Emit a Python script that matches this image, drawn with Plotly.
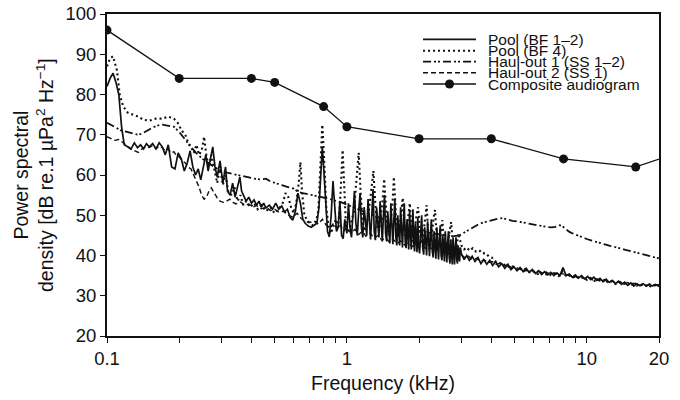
import plotly.graph_objects as go

# ---------------- data ----------------
aud_f = [0.1, 0.2, 0.4, 0.5, 0.8, 1.0, 2.0, 4.0, 8.0, 16.0, 32.0]
aud_db = [96, 84, 84, 83, 77, 72, 69, 69, 64, 62, 68]

pool12_f = [0.100, 0.103, 0.106, 0.109, 0.112, 0.115, 0.118, 0.122, 0.126, 0.130, 0.134, 0.138, 0.142, 0.146,
            0.150, 0.155, 0.160, 0.165, 0.170, 0.175, 0.180, 0.186, 0.192, 0.198, 0.204, 0.210, 0.216, 0.222,
            0.228, 0.234, 0.240, 0.246, 0.252, 0.258, 0.264, 0.270, 0.276, 0.282, 0.288, 0.296, 0.304, 0.312,
            0.318, 0.326, 0.334, 0.342, 0.350, 0.358, 0.364, 0.372, 0.380, 0.390, 0.400, 0.410, 0.420, 0.430,
            0.440, 0.450, 0.460, 0.475, 0.490, 0.505, 0.520, 0.535, 0.550, 0.565, 0.580, 0.595, 0.610, 0.625,
            0.640, 0.655, 0.670, 0.690, 0.710, 0.730, 0.750, 0.765, 0.780, 0.790, 0.800, 0.815, 0.830, 0.845,
            0.860, 0.875, 0.890, 0.905, 0.920, 0.935, 0.950, 0.965, 0.980,
            1.000, 1.015, 1.030, 1.045, 1.060, 1.075, 1.090, 1.105, 1.120, 1.135, 1.150, 1.165, 1.180, 1.195,
            1.210, 1.225, 1.240, 1.255, 1.270, 1.285, 1.300, 1.315, 1.330, 1.345, 1.360, 1.375, 1.390, 1.405,
            1.420, 1.435, 1.450, 1.465, 1.480, 1.495, 1.510, 1.525, 1.540, 1.555, 1.570, 1.585, 1.600, 1.615,
            1.630, 1.645, 1.660, 1.675, 1.690, 1.705, 1.720, 1.735, 1.750, 1.765, 1.780, 1.795, 1.810, 1.825,
            1.840, 1.855, 1.870, 1.885, 1.900, 1.915, 1.930, 1.945, 1.960, 1.975, 1.990, 2.010, 2.030, 2.050,
            2.070, 2.090, 2.110, 2.130, 2.150, 2.170, 2.190, 2.210, 2.230, 2.250, 2.270, 2.290, 2.310, 2.330,
            2.350, 2.370, 2.390, 2.410, 2.430, 2.450, 2.470, 2.490, 2.510, 2.530, 2.550, 2.570, 2.590, 2.610,
            2.630, 2.650, 2.670, 2.690, 2.710, 2.730, 2.750, 2.770, 2.790, 2.810, 2.830, 2.850, 2.870, 2.890,
            2.910, 2.930, 2.950, 2.970,
            3.000, 3.080, 3.160, 3.240, 3.330, 3.420, 3.520, 3.620, 3.720, 3.830, 3.940, 4.050, 4.170,
            4.290, 4.420, 4.550, 4.690, 4.830, 4.970, 5.120, 5.270, 5.430, 5.590, 5.760, 5.930, 6.110, 6.290,
            6.480, 6.670, 6.870, 7.080, 7.290, 7.510, 7.730, 7.960, 8.200, 8.450, 8.700, 8.960, 9.230, 9.510,
            9.790, 10.08, 10.38, 10.70, 11.02, 11.35, 11.69, 12.04, 12.40, 12.77, 13.16, 13.55, 13.96, 14.38,
            14.81, 15.26, 15.71, 16.18, 16.67, 17.17, 17.69, 18.22, 18.76, 19.33, 19.91, 20.0]
pool12_db = [82, 84, 85.3, 83, 80, 72, 67.5, 67, 66.5, 68, 66.8, 67.5, 66.5, 67.8,
             67, 67.8, 66.5, 68, 67, 65, 67.5, 62, 61.5, 65.5, 64, 61, 63, 66,
             62, 60, 61.5, 58.8, 62, 65, 61, 64, 67, 62, 59.5, 63.5, 58, 62,
             56, 55, 58, 54.5, 57, 59.5, 56, 54.5, 53.5, 54.5, 53, 53.8, 52.5, 53.5,
             52, 53, 51.8, 52.5, 51.5, 53, 51.5, 52.3, 50.8, 51.5, 49.5, 48.8, 51, 55.5,
             53, 49, 48, 47.3, 47, 47.5, 48, 52, 60, 67, 62, 52, 46, 44.6,
             50, 58.5, 52, 46, 47, 53.5, 45, 44.2, 49,
             45.5, 53, 47, 44.5, 50, 56, 48, 45, 51, 55.5, 47, 44.5, 52, 49,
             45, 54, 47.5, 44, 50, 56.5, 46, 43.8, 52, 47, 44.5, 53.5, 46, 43.5,
             50, 55, 45.5, 43.5, 51, 47, 43, 53, 45, 42.8, 49, 54, 44.5, 42.5,
             50, 46, 42.5, 52, 44, 42, 48, 53, 43.5, 41.8, 49, 45, 41.5, 51,
             43.5, 41.5, 47, 51.5, 43, 41, 48, 44, 40.8, 49.5, 42.5, 40.5, 46, 50,
             42, 40.2, 47, 43, 40, 48.5, 41.5, 39.8, 45, 49, 41, 39.5, 46, 42,
             39.2, 47, 40.5, 39, 44, 47.5, 40, 38.8, 45, 41, 38.5, 46, 40, 38.3,
             43, 46, 39.5, 38, 44, 40, 37.8, 44.5, 39.5, 37.8, 42, 44.5, 39, 38,
             42.5, 39.5, 38.5, 42,
             40.5, 39, 40, 38.8, 39.8, 38.5, 39.5, 38, 39, 37.8, 38.8, 37.5, 38.5,
             37.2, 38, 36.8, 37.8, 36.5, 37.2, 36.2, 37, 36, 36.8, 35.8, 36.5, 35.5, 36.2,
             35.3, 36, 35.2, 35.8, 35, 35.7, 35, 37, 35, 35.4, 34.6, 35.2, 34.4, 35,
             34.2, 34.8, 34, 34.6, 33.8, 34.3, 33.5, 34.1, 33.3, 33.8, 33, 33.6, 32.8, 33.4,
             32.6, 33.2, 32.4, 33, 32.5, 33, 32.4, 32.9, 32.4, 32.8, 32.4, 32.6]

pool4_f = [0.100, 0.103, 0.106, 0.110, 0.113, 0.117, 0.122, 0.128, 0.135, 0.142, 0.150, 0.160, 0.170, 0.180,
           0.190, 0.197, 0.205, 0.212, 0.218, 0.224, 0.230, 0.236, 0.242, 0.248, 0.254, 0.260, 0.266, 0.272,
           0.280, 0.288, 0.296, 0.304, 0.312, 0.320, 0.330, 0.340, 0.350, 0.360, 0.370, 0.380, 0.395, 0.410,
           0.425, 0.440, 0.460, 0.480, 0.500, 0.520, 0.540, 0.555, 0.570, 0.585, 0.600, 0.615, 0.630, 0.640,
           0.650, 0.665, 0.680, 0.700, 0.720, 0.740, 0.760, 0.775, 0.790, 0.805, 0.820, 0.840, 0.860, 0.880,
           0.900, 0.920, 0.940, 0.960, 0.975, 0.990, 1.010, 1.030, 1.050, 1.070, 1.090, 1.120, 1.140, 1.165,
           1.190, 1.215, 1.240, 1.265, 1.290, 1.310, 1.335, 1.360, 1.385, 1.410, 1.430, 1.450, 1.475, 1.500,
           1.525, 1.550, 1.570, 1.590, 1.615, 1.640, 1.665, 1.690, 1.710, 1.730, 1.755, 1.780, 1.805, 1.830,
           1.850, 1.875, 1.900, 1.925, 1.950, 1.980, 2.010, 2.040, 2.070, 2.100, 2.130, 2.150, 2.180, 2.210,
           2.240, 2.270, 2.300, 2.330, 2.360, 2.390, 2.420, 2.450, 2.480, 2.500, 2.530, 2.560, 2.600, 2.640,
           2.680, 2.720, 2.760, 2.800, 2.840, 2.880, 2.920, 2.960, 3.000, 3.080, 3.160, 3.250, 3.350, 3.450,
           3.560, 3.670, 3.780, 3.900, 4.020, 4.150, 4.300, 4.450, 4.600, 4.760, 4.920, 5.090, 5.260, 5.440,
           5.630, 5.820, 6.020, 6.230, 6.440, 6.670, 6.900, 7.140, 7.390, 7.640, 7.900, 8.180, 8.460, 8.750,
           9.060, 9.370, 9.700, 10.03, 10.38, 10.74, 11.11, 11.50, 11.90, 12.31, 12.74, 13.18, 13.64, 14.11,
           14.60, 15.11, 15.63, 16.17, 16.73, 17.31, 17.91, 18.53, 19.17, 19.84, 20.0]
pool4_db = [87, 89, 89.5, 86, 80, 77, 75.5, 75, 74.5, 73.7, 73.5, 74, 74, 74.5,
            74, 73, 71, 70, 68, 67, 65.5, 67.5, 65, 66, 69.5, 64.5, 62, 65,
            61, 58, 62, 57.5, 60, 56, 55, 57, 53.5, 55, 52.5, 53.5, 52, 53,
            51.5, 52.5, 51, 52, 50.5, 51.5, 53, 55.5, 54.5, 52, 50.5, 53, 58, 63.2,
            56, 50, 49, 48, 47.5, 48, 51, 62, 72.5, 63, 52, 47, 45.5, 47.5,
            49, 47, 55, 66.2, 57, 48, 46, 47, 49, 51, 57, 65.5, 56, 48,
            46, 48, 52, 56, 61, 54, 47.5, 46, 50, 54, 59, 52, 46.5, 45,
            49, 53, 59.5, 52, 46, 44.5, 48, 51, 54.3, 49, 44.5, 47, 50, 53,
            48, 43.5, 44, 48, 50, 52, 47, 43, 44, 47.5, 50, 52.5, 46, 42,
            43, 46.5, 49.5, 51.3, 45.5, 41.5, 42, 45, 47, 48.8, 44, 40.5, 41.5, 44,
            46, 48.3, 43.5, 40, 41, 44, 45.5, 44, 42.5, 41.5, 42, 41.2, 41.8, 41,
            41.3, 40.5, 40.6, 39.8, 39.5, 38.5, 38.3, 37.6, 37.8, 37, 37.3, 36.5, 36.9, 36.1,
            36.4, 35.7, 36, 35.4, 35.8, 35.1, 35.6, 35, 35.5, 34.9, 36, 35, 35.2, 34.5,
            34.9, 34.2, 34.6, 33.9, 34.4, 33.7, 34.1, 33.4, 33.9, 33.2, 33.6, 32.9, 33.4, 32.8,
            33.2, 32.6, 33, 32.5, 32.9, 32.3, 32.8, 32.2, 32.7, 32.4, 33]

haul1_f = [0.100, 0.105, 0.110, 0.115, 0.120, 0.125, 0.130, 0.135, 0.140, 0.145, 0.150, 0.155, 0.160, 0.165,
           0.170, 0.180, 0.190, 0.200, 0.210, 0.220, 0.235, 0.250, 0.265, 0.280, 0.300, 0.320, 0.350, 0.380,
           0.400, 0.420, 0.440, 0.460, 0.480, 0.500, 0.520, 0.540, 0.560, 0.580, 0.600, 0.620, 0.650, 0.680,
           0.710, 0.740, 0.770, 0.800, 0.830, 0.860, 0.900, 0.950, 1.000, 1.100, 1.200, 1.300, 1.400, 1.500,
           1.600, 1.700, 1.800, 1.900, 2.000, 2.200, 2.400, 2.600, 2.800, 2.950, 3.100, 3.250, 3.400, 3.550,
           3.700, 3.850, 4.000, 4.150, 4.300, 4.450, 4.600, 4.750, 4.900, 5.100, 5.300, 5.500, 5.700, 5.900,
           6.100, 6.300, 6.500, 6.800, 7.100, 7.400, 7.700, 7.900, 8.200, 8.500, 8.800, 9.200, 9.600, 10.00,
           10.50, 11.00, 11.50, 12.00, 12.50, 13.00, 13.50, 14.00, 14.50, 15.00, 15.50, 16.00, 16.50, 17.00,
           17.50, 18.00, 18.50, 19.00, 19.50, 20.00]
haul1_db = [73, 72.3, 71.6, 71, 70.8, 70.5, 70.4, 70, 70.3, 70.9, 71.3, 71.8, 72.2, 72.4,
            72.5, 72.3, 72, 70.7, 69, 67.5, 65.5, 64, 63, 62, 61, 60.5, 60, 59.5,
            59.2, 59, 58.9, 59.1, 58.4, 58, 57.7, 57.4, 57.1, 56.8, 56.6, 56, 55.5, 55.3,
            55, 54.8, 54.6, 54.4, 54.2, 54, 53.6, 53.2, 52.6, 51.6, 50.7, 49.9, 49.1, 48.4,
            47.8, 47.3, 46.9, 46.5, 46.2, 45.7, 45.3, 45, 44.8, 45, 45.8, 46.5, 47.3, 47.8,
            48.2, 48.5, 48.8, 49, 49.2, 49.3, 49, 48.8, 48.6, 48.5, 48.3, 48.1, 48, 47.8,
            47.6, 47.4, 47.3, 47.1, 47, 47.1, 47.5, 47.3, 46.5, 45.8, 45.4, 44.9, 44.5, 44.1,
            43.7, 43.3, 43, 42.7, 42.4, 42.2, 42, 41.7, 41.4, 41.2, 41, 40.8, 40.6, 40.4,
            40.2, 40, 39.8, 39.6, 39.4, 39.3]

haul2_f = [0.100, 0.104, 0.108, 0.112, 0.116, 0.120, 0.125, 0.130, 0.135, 0.140, 0.145, 0.150, 0.155, 0.160,
           0.165, 0.170, 0.175, 0.180, 0.185, 0.190, 0.195, 0.200, 0.206, 0.212, 0.218, 0.224, 0.230, 0.236,
           0.242, 0.248, 0.254, 0.260, 0.266, 0.272, 0.280, 0.288, 0.296, 0.305, 0.315, 0.325, 0.335, 0.345,
           0.360, 0.375, 0.390, 0.405, 0.420, 0.440, 0.460, 0.480, 0.500, 0.520, 0.545, 0.570, 0.595, 0.620,
           0.645, 0.670, 0.700, 0.730, 0.760, 0.790, 0.820, 0.850, 0.880, 0.910, 0.940, 0.970, 1.000, 1.040,
           1.080, 1.120, 1.160, 1.200, 1.250, 1.300, 1.350, 1.400, 1.450, 1.500, 1.560, 1.620, 1.680, 1.740,
           1.800, 1.870, 1.940, 2.010, 2.080, 2.160, 2.240, 2.320, 2.400, 2.490, 2.580, 2.680, 2.780, 2.880,
           2.990, 3.100, 3.220, 3.340, 3.470, 3.600, 3.740, 3.880, 4.030, 4.180, 4.340, 4.500, 4.670, 4.850,
           5.030, 5.220, 5.420, 5.630, 5.840, 6.060, 6.290, 6.530, 6.780, 7.040, 7.300, 7.580, 7.870, 8.170,
           8.480, 8.800, 9.130, 9.480, 9.840, 10.21, 10.60, 11.00, 11.42, 11.85, 12.30, 12.76, 13.25, 13.75,
           14.27, 14.81, 15.37, 15.95, 16.56, 17.18, 17.83, 18.51, 19.21, 19.94]
haul2_db = [69.5, 69, 68.6, 68.8, 68.2, 67.5, 66.5, 66, 65.6, 66.5, 67, 66.8, 67.3, 66.5,
            67.2, 66.8, 66, 66.5, 65.5, 65.8, 64.8, 64.5, 63.5, 63, 62, 61.5, 60, 58.5,
            57, 55, 54, 54.5, 56, 56.8, 55.5, 54.3, 53.5, 53.2, 53.5, 54, 53.2, 52.8,
            53.3, 52.5, 52.8, 52, 52.4, 51.6, 52, 51.2, 51.5, 50.8, 51, 50, 49.5, 50.5,
            49.2, 48.5, 48.2, 48.6, 47.8, 49, 47.5, 46.8, 48, 46.5, 47.5, 46, 47, 45.5,
            46.5, 45.2, 46, 44.8, 45.6, 44.3, 45, 43.8, 44.5, 43.4, 44, 43, 43.6, 42.6,
            43.2, 42.2, 42.8, 41.8, 42.3, 41.4, 41.9, 41, 41.5, 40.6, 41, 40.2, 40.6, 39.8,
            40.2, 39.5, 39.8, 39, 39.3, 38.6, 38.9, 38.2, 38.5, 37.8, 38.1, 37.4, 37.7, 37,
            37.3, 36.6, 36.9, 36.2, 36.5, 35.9, 36.2, 35.6, 35.9, 35.3, 35.7, 35.1, 35.5, 35.3,
            34.9, 35.1, 34.5, 34.8, 34.2, 34.5, 33.9, 34.2, 33.6, 34, 33.4, 33.7, 33.1, 33.5,
            32.9, 33.3, 32.7, 33.1, 32.6, 33, 32.5, 32.9, 32.5, 32.8]

legend_names = ["Pool (BF 1\u20132)", "Pool (BF 4)", "Haul-out 1 (SS 1\u20132)",
                "Haul-out 2 (SS 1)", "Composite audiogram"]

x_major_vals = [0.1, 1, 10, 20]
x_major_text = ["0.1", "1", "10", "20"]
x_minor_vals = [0.2, 0.3, 0.4, 0.5, 0.6, 0.7, 0.8, 0.9, 2, 3, 4, 5, 6, 7, 8, 9]
y_tickvals = [20, 30, 40, 50, 60, 70, 80, 90, 100]

# ---------------- styling ----------------
FONT = "Liberation Sans, Arial, Helvetica, sans-serif"
INK = "#111111"
DASH_POOL12 = "solid"
DASH_POOL4 = "2px,3px"
DASH_HAUL1 = "8px,3px,2px,2px,2px,3px"
DASH_HAUL2 = "5px,3px"

fig = go.Figure()
fig.add_trace(go.Scatter(x=haul2_f, y=haul2_db, mode="lines", name=legend_names[3],
                         line=dict(color=INK, width=1.4, dash=DASH_HAUL2), showlegend=False))
fig.add_trace(go.Scatter(x=haul1_f, y=haul1_db, mode="lines", name=legend_names[2],
                         line=dict(color=INK, width=1.8, dash=DASH_HAUL1), showlegend=False))
fig.add_trace(go.Scatter(x=pool4_f, y=pool4_db, mode="lines", name=legend_names[1],
                         line=dict(color=INK, width=2.1, dash=DASH_POOL4), showlegend=False))
fig.add_trace(go.Scatter(x=pool12_f, y=pool12_db, mode="lines", name=legend_names[0],
                         line=dict(color=INK, width=1.7, dash=DASH_POOL12), showlegend=False))
fig.add_trace(go.Scatter(x=aud_f, y=aud_db, mode="lines+markers", name=legend_names[4],
                         line=dict(color=INK, width=1.3), marker=dict(color=INK, size=9),
                         showlegend=False))

# ---------------- manual compact legend ----------------
L_X0, L_X1, L_TX = 0.5725, 0.6685, 0.6866
L_ROWS = [0.9214, 0.8860, 0.8519, 0.8177, 0.7826]
L_DASH = [DASH_POOL12, DASH_POOL4, DASH_HAUL1, DASH_HAUL2, "solid"]
L_W = [1.7, 2.1, 1.8, 1.4, 1.3]
shapes = []
annotations = []
for name, yy, dsh, w in zip(legend_names, L_ROWS, L_DASH, L_W):
    shapes.append(dict(type="line", xref="paper", yref="paper", x0=L_X0, x1=L_X1, y0=yy, y1=yy,
                       line=dict(color=INK, width=w, dash=dsh)))
    annotations.append(dict(xref="paper", yref="paper", x=L_TX, y=yy, xanchor="left", yanchor="middle",
                            text=name, showarrow=False, font=dict(family=FONT, size=15.5, color=INK)))
shapes.append(dict(type="circle", xref="paper", yref="paper", xsizemode="pixel", ysizemode="pixel",
                   xanchor=(L_X0 + L_X1) / 2, yanchor=L_ROWS[4], x0=-4.5, x1=4.5, y0=-4.5, y1=4.5,
                   fillcolor=INK, line=dict(color=INK, width=0)))

annotations.append(dict(xref="paper", yref="paper", x=-0.134, y=0.5, xanchor="center", yanchor="middle",
                        textangle=-90, showarrow=False,
                        text="Power spectral<br>density [dB re.1 \u00b5Pa<sup>2</sup> Hz<sup>\u22121</sup>]",
                        font=dict(family=FONT, size=19.5, color=INK)))
annotations.append(dict(xref="paper", yref="paper", x=0.5, y=-0.146, xanchor="center", yanchor="middle",
                        text="Frequency (kHz)", showarrow=False,
                        font=dict(family=FONT, size=19.5, color=INK)))

fig.update_layout(
    width=680, height=400,
    margin=dict(l=107, r=21, t=14, b=64),
    paper_bgcolor="white", plot_bgcolor="white",
    font=dict(family=FONT, size=18, color=INK),
    showlegend=False,
    shapes=shapes, annotations=annotations,
)
fig.update_xaxes(type="log", range=[-1, 1.30103], tickmode="array", tickvals=x_major_vals,
                 ticktext=x_major_text, ticks="outside", ticklen=5, tickwidth=1.3, tickcolor=INK,
                 minor=dict(tickmode="array", tickvals=x_minor_vals, ticks="outside", ticklen=5,
                            tickwidth=1.3, tickcolor=INK, showgrid=False),
                 showline=True, linecolor=INK, linewidth=1.8, mirror=True, showgrid=False, zeroline=False,
                 automargin=False, tickfont=dict(family=FONT, size=18.5, color=INK))
fig.update_yaxes(range=[20, 100], tickmode="array", tickvals=y_tickvals, ticks="outside", ticklen=5,
                 tickwidth=1.3, tickcolor=INK, showline=True, linecolor=INK, linewidth=1.8, mirror=True,
                 showgrid=False, zeroline=False, automargin=False,
                 tickfont=dict(family=FONT, size=18.5, color=INK))

fig.write_html("out.html")
